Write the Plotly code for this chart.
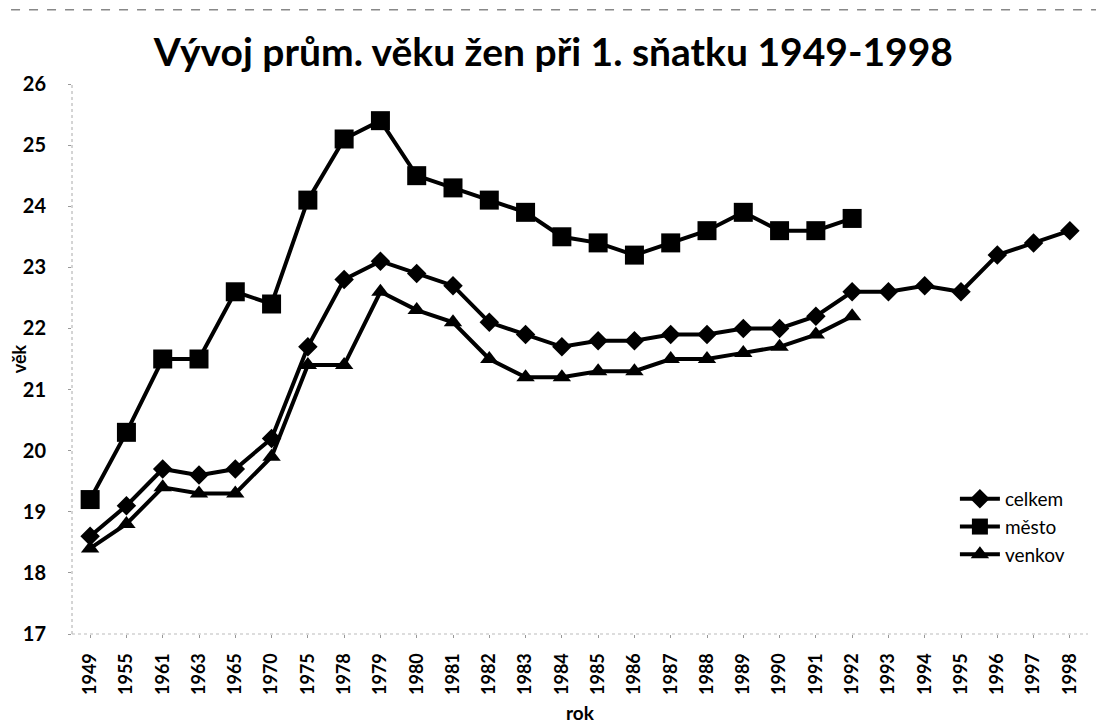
import plotly.graph_objects as go

years = ["1949", "1955", "1961", "1963", "1965", "1970", "1975", "1978", "1979", "1980",
         "1981", "1982", "1983", "1984", "1985", "1986", "1987", "1988", "1989", "1990",
         "1991", "1992", "1993", "1994", "1995", "1996", "1997", "1998"]

celkem = [18.6, 19.1, 19.7, 19.6, 19.7, 20.2, 21.7, 22.8, 23.1, 22.9,
          22.7, 22.1, 21.9, 21.7, 21.8, 21.8, 21.9, 21.9, 22.0, 22.0,
          22.2, 22.6, 22.6, 22.7, 22.6, 23.2, 23.4, 23.6]

mesto = [19.2, 20.3, 21.5, 21.5, 22.6, 22.4, 24.1, 25.1, 25.4, 24.5,
         24.3, 24.1, 23.9, 23.5, 23.4, 23.2, 23.4, 23.6, 23.9, 23.6,
         23.6, 23.8, None, None, None, None, None, None]

venkov = [18.4, 18.8, 19.4, 19.3, 19.3, 19.9, 21.4, 21.4, 22.6, 22.3,
          22.1, 21.5, 21.2, 21.2, 21.3, 21.3, 21.5, 21.5, 21.6, 21.7,
          21.9, 22.2, None, None, None, None, None, None]

y_ticks = [17, 18, 19, 20, 21, 22, 23, 24, 25, 26]

FONT = "Lato"

fig = go.Figure()
fig.add_trace(go.Scatter(x=years, y=celkem, name="celkem", mode="lines+markers",
                         line=dict(color="black", width=4),
                         marker=dict(symbol="diamond", size=15, color="black")))
fig.add_trace(go.Scatter(x=years, y=mesto, name="město", mode="lines+markers",
                         line=dict(color="black", width=4),
                         marker=dict(symbol="square", size=19, color="black")))
fig.add_trace(go.Scatter(x=years, y=venkov, name="venkov", mode="lines+markers",
                         line=dict(color="black", width=4),
                         marker=dict(symbol="triangle-up", size=16, color="black")))

fig.update_layout(
    width=1104, height=727,
    margin=dict(l=64, r=24, t=76, b=101, autoexpand=False),
    paper_bgcolor="white", plot_bgcolor="white",
    font=dict(family=FONT, color="black"),
    title=dict(text="Vývoj prům. věku žen při 1. sňatku 1949-1998",
               x=0.494, xanchor="center", y=0.9395, yanchor="middle",
               automargin=False,
               font=dict(size=39, family=FONT, color="black", weight="bold")),
    showlegend=True,
    legend=dict(x=0.869, y=0.28, xanchor="left", yanchor="top",
                bgcolor="rgba(0,0,0,0)", font=dict(size=19, family=FONT),
                itemwidth=40, tracegroupgap=0),
)

fig.update_xaxes(type="category", categoryorder="array", categoryarray=years,
                 range=[-0.5, len(years) - 0.5], automargin=False,
                 tickangle=-90, tickfont=dict(size=18, family=FONT, weight="bold"),
                 ticks="outside", ticklen=3, tickcolor="#999", tickwidth=1,
                 showline=False, showgrid=False, zeroline=False,
                 ticklabelstandoff=8,
                 title=dict(text="rok", font=dict(size=19, weight="bold"), standoff=12))

fig.update_yaxes(range=[17, 26], tickvals=y_ticks, automargin=False,
                 tickfont=dict(size=20, family=FONT, weight="bold"),
                 ticks="outside", ticklen=3, tickcolor="#999", tickwidth=1,
                 showline=False, showgrid=False, zeroline=False,
                 ticklabelstandoff=18,
                 title=dict(text="věk", font=dict(size=18, weight="bold"), standoff=2))

# faint dotted axis lines as in the scanned original
fig.add_shape(type="line", xref="paper", yref="paper", x0=0, x1=0, y0=0, y1=1,
              line=dict(color="#aaa", width=1, dash="dot"))
fig.add_shape(type="line", xref="paper", yref="paper", x0=0, x1=1, y0=0, y1=0,
              line=dict(color="#bbb", width=1, dash="dot"))
# faint dashed scan edge along the top
fig.add_shape(type="line", xref="paper", yref="paper", x0=-0.06, x1=1.02,
              y0=1.135, y1=1.135,
              line=dict(color="#888", width=1.5, dash="dash"))

fig.write_html("out.html")
